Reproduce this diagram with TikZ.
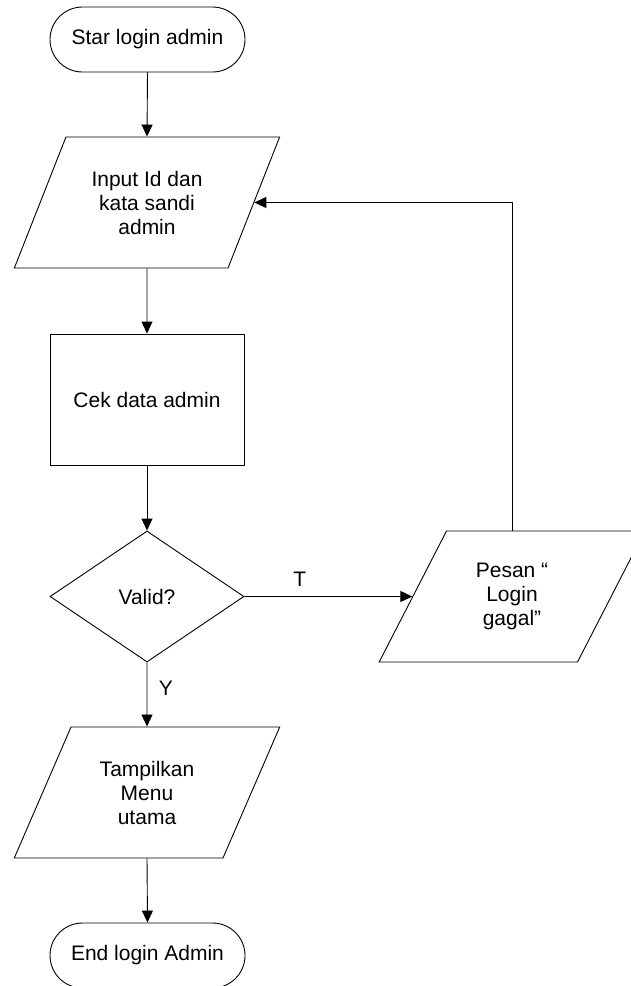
\documentclass[tikz,border=0pt]{standalone}
\usepackage{fontspec}
\setmainfont{Liberation Sans}
\usetikzlibrary{shapes.geometric,arrows.meta}
\begin{document}
\begin{tikzpicture}[x=1pt,y=1pt,
  every node/.style={font=\fontsize{21}{24}\selectfont, align=center, line width=0.9pt},
  terminal/.style={draw, rectangle, rounded corners=32.5pt, minimum width=195pt, minimum height=65pt, inner sep=0pt},
  process/.style={draw, rectangle, minimum width=194pt, minimum height=131pt, inner sep=0pt},
  decision/.style={draw, diamond, minimum width=194pt, minimum height=131pt, inner sep=0pt, aspect=1.48},
  io/.style={draw, trapezium, trapezium left angle=60.9, trapezium right angle=119.1,
    trapezium stretches=true, minimum width=266pt, minimum height=131pt, inner sep=0pt},
  flow/.style={line width=0.9pt, -{Triangle[length=12pt,width=11pt]}},
  plain/.style={line width=0.9pt}]
  \useasboundingbox (0,0) rectangle (631,-986);
  \clip (0,0) rectangle (631,-986);

  % main column
  \node[terminal] (start) at (147.5,-39.5) {Star login admin};
  \node[io] (input) at (147,-202.5) {Input Id dan\\kata sandi\\admin};
  \node[process] (cek) at (147,-399.5) {Cek data admin};
  \node[decision] (valid) at (147,-596.5) {Valid?};
  \node[io] (pesan) at (512,-596.5) {Pesan \textquotedblleft\\Login\\gagal\textquotedblright};
  \node[io] (tampil) at (147,-792.5) {Tampilkan\\Menu\\utama};
  \node[terminal] (end) at (147.5,-955.5) {End login Admin};

  % connectors
  \draw[flow] (start.south) -- (input.north);
  \draw[flow] (input.south) -- (cek.north);
  \draw[flow] (cek.south) -- (valid.north);
  \draw[flow] (valid.east) -- (pesan) node[pos=0.33, above=6pt] (tlabel) {T};
  \draw[flow] (pesan.north) |- (input);
  \draw[flow] (valid.south) -- (tampil.north) node[pos=0.4, right=8pt] (ylabel) {Y};
  \draw[flow] (tampil.south) -- (end.north);
\end{tikzpicture}
\end{document}
